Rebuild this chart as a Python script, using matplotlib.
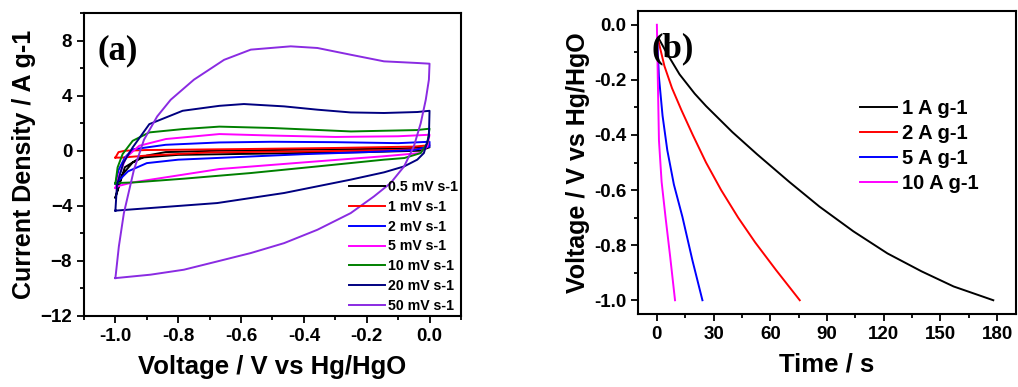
import matplotlib
matplotlib.use('Agg')
import matplotlib.pyplot as plt
from matplotlib.ticker import MultipleLocator

plt.rcParams['font.family'] = ['Liberation Sans', 'DejaVu Sans']
plt.rcParams['font.weight'] = 'bold'

# ---- (a) CV loops: potential (V) and current density (A/g), closed loops
v_05 = [-1.0, -0.98, -0.945, -0.9, -0.84, -0.67, -0.4, -0.1, 0.0, -0.03, -0.2, -0.5, -0.8, -0.92, -0.97, -1.0]
i_05 = [-3.4, -1.8, -0.85, -0.35, -0.1, 0.0, 0.08, 0.15, 0.25, 0.0, -0.1, -0.2, -0.3, -0.5, -1.2, -3.4]

v_1 = [-1.0, -0.99, -0.97, -0.9, -0.6, -0.3, -0.05, 0.0, -0.02, -0.1, -0.4, -0.7, -0.9, -0.98, -1.0]
i_1 = [-0.5, -0.1, 0.0, 0.05, 0.12, 0.2, 0.3, 0.4, 0.15, 0.05, -0.05, -0.12, -0.35, -0.5, -0.5]

v_2 = [-1.0, -0.99, -0.97, -0.945, -0.84, -0.67, -0.5, -0.3, -0.1, 0.0,
       0.0, -0.05, -0.2, -0.4, -0.6, -0.8, -0.9, -0.96, -1.0]
i_2 = [-2.4, -1.4, -0.5, 0.1, 0.43, 0.6, 0.65, 0.62, 0.55, 0.65,
       0.3, 0.05, -0.1, -0.25, -0.45, -0.65, -0.9, -1.5, -2.4]

v_5 = [-1.0, -0.987, -0.966, -0.924, -0.839, -0.669, -0.5, -0.3, -0.1, 0.0,
       -0.007, -0.03, -0.15, -0.357, -0.569, -0.669, -0.839, -0.945, -0.987, -1.0]
i_5 = [-2.7, -1.69, -0.48, 0.36, 0.85, 1.21, 1.1, 1.0, 1.05, 1.16,
       0.31, -0.17, -0.41, -0.77, -1.15, -1.33, -1.93, -2.3, -2.54, -2.7]

v_10 = [-1.0, -0.993, -0.977, -0.945, -0.892, -0.786, -0.669, -0.5, -0.25, -0.04, 0.0,
        -0.007, -0.028, -0.08, -0.145, -0.357, -0.569, -0.782, -0.94, -1.0]
i_10 = [-2.4, -1.21, -0.24, 0.72, 1.33, 1.57, 1.75, 1.65, 1.4, 1.5, 1.6,
        0.55, -0.17, -0.53, -0.65, -1.14, -1.62, -2.03, -2.3, -2.35]

v_20 = [-1.0, -0.995, -0.975, -0.945, -0.892, -0.786, -0.669, -0.591, -0.463, -0.357, -0.251, -0.145, -0.039, 0.0,
        -0.002, -0.018, -0.039, -0.081, -0.145, -0.251, -0.463, -0.676, -0.888, -1.0]
i_20 = [-4.35, -2.5, -0.9, 0.24, 1.93, 2.9, 3.26, 3.39, 3.22, 2.98, 2.78, 2.74, 2.81, 2.9,
        1.04, -0.17, -0.65, -1.14, -1.57, -2.1, -3.07, -3.8, -4.16, -4.35]

v_50 = [-1.0, -0.989, -0.973, -0.941, -0.909, -0.867, -0.824, -0.75, -0.654, -0.569, -0.442, -0.357,
        -0.251, -0.145, -0.039, 0.0,
        -0.002, -0.012, -0.028, -0.05, -0.081, -0.124, -0.177, -0.251, -0.357, -0.463, -0.569,
        -0.676, -0.782, -0.888, -1.0]
i_50 = [-9.25, -6.95, -4.53, -1.38, 0.8, 2.49, 3.7, 5.16, 6.6, 7.34, 7.58, 7.46,
        6.97, 6.49, 6.37, 6.32,
        5.16, 3.7, 2.0, 0.31, -1.14, -2.35, -3.32, -4.53, -5.74, -6.71, -7.43,
        -8.04, -8.64, -9.0, -9.25]

cv_labels = ['0.5 mV s-1', '1 mV s-1', '2 mV s-1', '5 mV s-1', '10 mV s-1', '20 mV s-1', '50 mV s-1']
cv_colors = ['black', '#ff0000', '#0000ff', '#ff00ff', '#008000', '#000080', '#8a2be2']

# ---- (b) galvanostatic discharge curves: time (s) and voltage (V)
t_1 = [1, 5, 12, 20, 26, 40, 53, 70, 86, 104, 122, 140, 157, 178]
u_1 = [-0.05, -0.1, -0.18, -0.25, -0.295, -0.39, -0.47, -0.57, -0.66, -0.75, -0.83, -0.895, -0.95, -1.0]

t_2 = [0.5, 4, 8, 13, 19, 26, 34, 43, 52, 63, 75.6]
u_2 = [-0.05, -0.15, -0.23, -0.31, -0.40, -0.50, -0.60, -0.70, -0.79, -0.89, -1.0]

t_5 = [0.2, 1.07, 3, 5.5, 9, 13.5, 18.8, 24.1]
u_5 = [-0.05, -0.188, -0.33, -0.455, -0.58, -0.697, -0.855, -1.0]

t_10 = [0.0, 0.5, 1.1, 2.5, 4.6, 7.0, 9.6]
u_10 = [0.0, -0.2, -0.42, -0.57, -0.7, -0.84, -1.0]

gcd_labels = ['1 A g-1', '2 A g-1', '5 A g-1', '10 A g-1']
gcd_colors = ['black', '#ff0000', '#0000ff', '#ff00ff']

fig = plt.figure(figsize=(10.18, 3.87), dpi=100)
ax1 = fig.add_axes([0.0825, 0.1835, 0.3703, 0.7829])
ax2 = fig.add_axes([0.6267, 0.1886, 0.3713, 0.7830])

cv_v = [v_05, v_1, v_2, v_5, v_10, v_20, v_50]
cv_i = [i_05, i_1, i_2, i_5, i_10, i_20, i_50]
for v, i, lab, c in zip(cv_v, cv_i, cv_labels, cv_colors):
    ax1.plot(v, i, color=c, lw=1.4, label=lab)

ax1.set_xlim(-1.1, 0.1)
ax1.set_ylim(-12, 10)
ax1.xaxis.set_minor_locator(MultipleLocator(0.1))
ax1.yaxis.set_major_locator(MultipleLocator(4))
ax1.yaxis.set_minor_locator(MultipleLocator(2))
ax1.set_xticks([-1.0, -0.8, -0.6, -0.4, -0.2, 0.0])
ax1.set_xticklabels(['-1.0', '-0.8', '-0.6', '-0.4', '-0.2', '0.0'])
ax1.set_xlabel('Voltage / V vs Hg/HgO', fontsize=18.5, fontweight='bold', labelpad=7)
ax1.set_ylabel('Current Density / A g-1', fontsize=18, fontweight='bold', labelpad=3)
ax1.legend(loc='upper left', bbox_to_anchor=(0.703, 0.45), frameon=False, fontsize=10.2,
           handlelength=2.55, handletextpad=0.2, labelspacing=0.42, borderpad=0,
           borderaxespad=0)
ax1.text(0.035, 0.93, '(a)', transform=ax1.transAxes, fontsize=25, fontweight='bold',
         family='Liberation Serif', va='top')

gcd_t = [t_1, t_2, t_5, t_10]
gcd_u = [u_1, u_2, u_5, u_10]
for t, u, lab, c in zip(gcd_t, gcd_u, gcd_labels, gcd_colors):
    ax2.plot(t, u, color=c, lw=1.4, label=lab)

ax2.set_xlim(-10, 190)
ax2.set_ylim(-1.05, 0.05)
ax2.xaxis.set_major_locator(MultipleLocator(30))
ax2.xaxis.set_minor_locator(MultipleLocator(15))
ax2.yaxis.set_minor_locator(MultipleLocator(0.1))
ax2.set_yticks([0.0, -0.2, -0.4, -0.6, -0.8, -1.0])
ax2.set_yticklabels(['0.0', '-0.2', '-0.4', '-0.6', '-0.8', '-1.0'])
ax2.set_xlabel('Time / s', fontsize=18.5, fontweight='bold', labelpad=7)
ax2.set_ylabel('Voltage / V vs Hg/HgO', fontsize=18, fontweight='bold', labelpad=3)
ax2.legend(loc='upper left', bbox_to_anchor=(0.587, 0.71), frameon=False, fontsize=14.5,
           handlelength=1.85, handletextpad=0.25, labelspacing=0.3, borderpad=0,
           borderaxespad=0)
ax2.text(0.035, 0.93, '(b)', transform=ax2.transAxes, fontsize=25, fontweight='bold',
         family='Liberation Serif', va='top')

for ax in (ax1, ax2):
    for s in ax.spines.values():
        s.set_linewidth(1.5)
    ax.tick_params(which='both', direction='out', top=False, right=False, width=1.3,
                   labelsize=13.5)
    ax.tick_params(which='major', length=5)
    ax.tick_params(which='minor', length=3)
    for lbl in ax.get_xticklabels() + ax.get_yticklabels():
        lbl.set_fontweight('bold')

fig.savefig('out.png', dpi=100)
